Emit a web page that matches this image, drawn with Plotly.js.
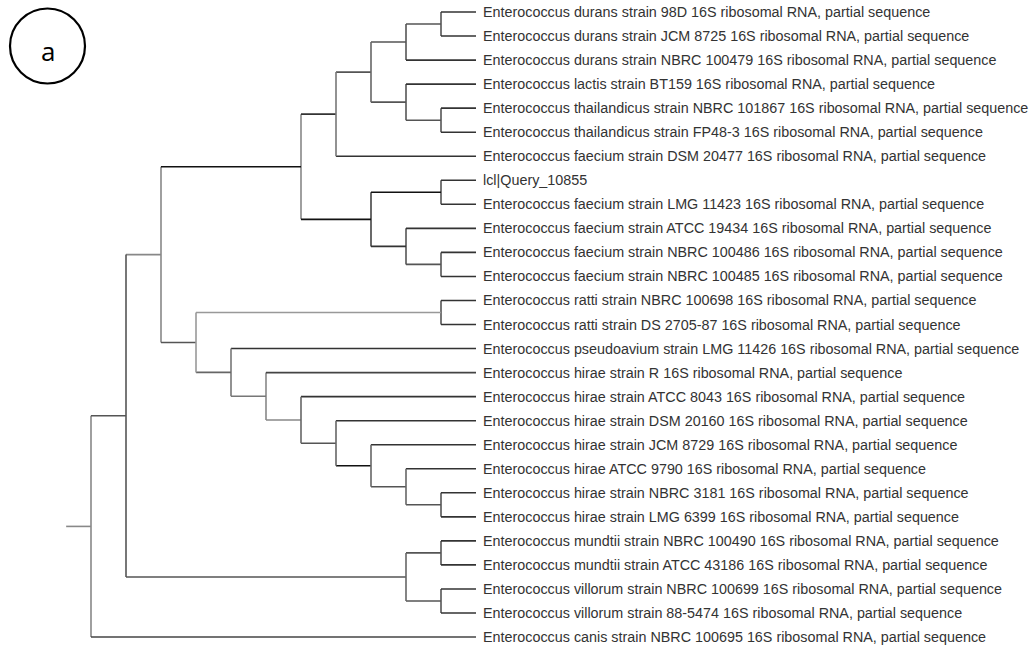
<!DOCTYPE html>
<html>
<head>
<meta charset="utf-8">
<script src="https://cdn.plot.ly/plotly-3.0.1.min.js"></script>
<style>html,body{margin:0;padding:0;background:#fff;}#chart{width:1029px;height:647px;}</style>
</head>
<body>
<div id="chart"></div>
<script>
// ---- DATA ----
const leafLabels = [
  "Enterococcus durans strain 98D 16S ribosomal RNA, partial sequence",
  "Enterococcus durans strain JCM 8725 16S ribosomal RNA, partial sequence",
  "Enterococcus durans strain NBRC 100479 16S ribosomal RNA, partial sequence",
  "Enterococcus lactis strain BT159 16S ribosomal RNA, partial sequence",
  "Enterococcus thailandicus strain NBRC 101867 16S ribosomal RNA, partial sequence",
  "Enterococcus thailandicus strain FP48-3 16S ribosomal RNA, partial sequence",
  "Enterococcus faecium strain DSM 20477 16S ribosomal RNA, partial sequence",
  "lcl|Query_10855",
  "Enterococcus faecium strain LMG 11423 16S ribosomal RNA, partial sequence",
  "Enterococcus faecium strain ATCC 19434 16S ribosomal RNA, partial sequence",
  "Enterococcus faecium strain NBRC 100486 16S ribosomal RNA, partial sequence",
  "Enterococcus faecium strain NBRC 100485 16S ribosomal RNA, partial sequence",
  "Enterococcus ratti strain NBRC 100698 16S ribosomal RNA, partial sequence",
  "Enterococcus ratti strain DS 2705-87 16S ribosomal RNA, partial sequence",
  "Enterococcus pseudoavium strain LMG 11426 16S ribosomal RNA, partial sequence",
  "Enterococcus hirae strain R 16S ribosomal RNA, partial sequence",
  "Enterococcus hirae strain ATCC 8043 16S ribosomal RNA, partial sequence",
  "Enterococcus hirae strain DSM 20160 16S ribosomal RNA, partial sequence",
  "Enterococcus hirae strain JCM 8729 16S ribosomal RNA, partial sequence",
  "Enterococcus hirae ATCC 9790 16S ribosomal RNA, partial sequence",
  "Enterococcus hirae strain NBRC 3181 16S ribosomal RNA, partial sequence",
  "Enterococcus hirae strain LMG 6399 16S ribosomal RNA, partial sequence",
  "Enterococcus mundtii strain NBRC 100490 16S ribosomal RNA, partial sequence",
  "Enterococcus mundtii strain ATCC 43186 16S ribosomal RNA, partial sequence",
  "Enterococcus villorum strain NBRC 100699 16S ribosomal RNA, partial sequence",
  "Enterococcus villorum strain 88-5474 16S ribosomal RNA, partial sequence",
  "Enterococcus canis strain NBRC 100695 16S ribosomal RNA, partial sequence"
];
const leafLevel = 11;          // all tips aligned
const rootStubLevel = -0.71;   // start of root stub

// internal nodes: id, level (horizontal depth), children (L# = leaf index, N# = node)
const nodeIds    = ["N0","N1","N2","N3","N4","N5","N6","N8","N7","N9","NQ","N10","N11","N12","NR","N13","N14","N15","N16","N17","N18","N19","N20","NMV","N21","N22"];
const nodeLevels = [0,   1,   2,   6,   7,   8,   9,   10,  9,   10,  8,   10,   9,    10,   3,   10,   4,    5,    6,    7,    8,    9,    10,   9,    10,   10];
const nodeChildren = [
  ["N1","L26"], ["N2","NMV"], ["N3","NR"], ["N4","NQ"], ["N5","L6"], ["N6","N7"],
  ["N8","L2"], ["L0","L1"], ["L3","N9"], ["L4","L5"],
  ["N10","N11"], ["L7","L8"], ["L9","N12"], ["L10","L11"],
  ["N13","N14"], ["L12","L13"], ["L14","N15"], ["L15","N16"], ["L16","N17"],
  ["L17","N18"], ["L18","N19"], ["L19","N20"], ["L20","L21"],
  ["N21","N22"], ["L22","L23"], ["L24","L25"]
];

// ---- STYLES (separate from data) ----
const vColor = {N0:"#888",N1:"#555",N2:"#888",N3:"#888",N4:"#777",N5:"#666",NQ:"#444",NR:"#999",
  N14:"#777",N15:"#888",N16:"#666",N17:"#666",N18:"#666",N19:"#666",NMV:"#666"};
const hColor = {N1:"#555",L26:"#444",N2:"#888",NMV:"#555",N3:"#111",NR:"#555",N4:"#333",NQ:"#111",
  N10:"#111",N11:"#333",N13:"#999",N14:"#666",L14:"#333",N15:"#777",L15:"#444",N16:"#888",N18:"#111",
  N5:"#555",L6:"#333"};
const defaultV = "#555", defaultLeafH = "#333", defaultNodeH = "#555";

// ---- BUILD TREE GEOMETRY ----
const nodeIndex = {}; nodeIds.forEach((id,i)=>nodeIndex[id]=i);
function levelOf(ref){ return ref[0]==="L" ? leafLevel : nodeLevels[nodeIndex[ref]]; }
const yCache = {};
function yOf(ref){
  if (ref in yCache) return yCache[ref];
  let v;
  if (ref[0]==="L") v = +ref.slice(1);
  else { const ch = nodeChildren[nodeIndex[ref]]; v = (yOf(ch[0]) + yOf(ch[ch.length-1]))/2; }
  yCache[ref]=v; return v;
}
const segs = {}; // color -> {x:[],y:[]}
function addSeg(color,x0,y0,x1,y1){
  if(!segs[color]) segs[color]={x:[],y:[]};
  segs[color].x.push(x0,x1,null); segs[color].y.push(y0,y1,null);
}
nodeIds.forEach((id,i)=>{
  const lv = nodeLevels[i], ch = nodeChildren[i];
  addSeg(vColor[id]||defaultV, lv, yOf(ch[0]), lv, yOf(ch[ch.length-1]));
  ch.forEach(c=>{
    const col = hColor[c] || (c[0]==="L" ? defaultLeafH : defaultNodeH);
    addSeg(col, lv, yOf(c), levelOf(c), yOf(c));
  });
});
addSeg("#888", rootStubLevel, yOf("N0"), nodeLevels[0], yOf("N0"));

const traces = Object.keys(segs).map(col=>({
  type:"scatter", mode:"lines", x:segs[col].x, y:segs[col].y,
  line:{color:col,width:1.6}, hoverinfo:"skip", showlegend:false
}));

const annotations = leafLabels.map((t,i)=>({
  x:leafLevel, y:i, xref:"x", yref:"y", text:t, showarrow:false,
  xanchor:"left", yanchor:"middle", xshift:5,
  font:{family:"Liberation Sans, Arial, sans-serif", size:14.35, color:"#333"}
}));

const W=1029, H=647;
annotations.push({
  x:47.5/W, y:1-51/H, xref:"paper", yref:"paper", text:"a", showarrow:false,
  xanchor:"center", yanchor:"middle",
  font:{family:"Open Sans, sans-serif", size:26, color:"#000"}
});

// pixel mapping: level L -> 91 + 35*L px ; leaf i -> 12 + 24.04*i px
const xr = [(0-91)/35, (W-91)/35];
const yr = [(H-12)/24.04, (0-12)/24.04];

const layout = {
  width:W, height:H, margin:{l:0,r:0,t:0,b:0},
  paper_bgcolor:"#fff", plot_bgcolor:"#fff",
  xaxis:{range:xr, visible:false, fixedrange:true},
  yaxis:{range:yr, visible:false, fixedrange:true},
  annotations:annotations,
  shapes:[{type:"circle", xref:"paper", yref:"paper",
    x0:10/W, x1:85/W, y0:1-83.5/H, y1:1-8.5/H,
    line:{color:"#000", width:2.2}}]
};
Plotly.newPlot("chart", traces, layout, {staticPlot:true, displayModeBar:false});
</script>
</body>
</html>
